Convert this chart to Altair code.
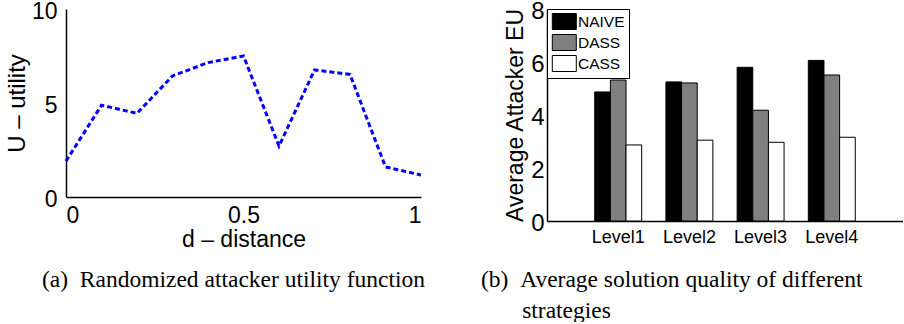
import altair as alt
import pandas as pd

# ---- data (a) ----
distance = [0.0, 0.1, 0.2, 0.3, 0.4, 0.5, 0.6, 0.7, 0.8, 0.9, 1.0]
utility = [1.91, 4.88, 4.45, 6.44, 7.15, 7.50, 2.71, 6.76, 6.52, 1.60, 1.17]

# ---- data (b) ----
levels = ["Level1", "Level2", "Level3", "Level4"]
strategies = ["NAIVE", "DASS", "CASS"]
naive = [4.87, 5.25, 5.80, 6.06]
dass = [5.32, 5.21, 4.18, 5.51]
cass = [2.87, 3.05, 2.97, 3.16]
bar_colors = ["#000000", "#808080", "#ffffff"]

df_a = pd.DataFrame({"d": distance, "u": utility})
rows = []
for s, vals in zip(strategies, [naive, dass, cass]):
    for lv, v in zip(levels, vals):
        rows.append({"level": lv, "strategy": s, "eu": v})
df_b = pd.DataFrame(rows)

SANS = "Liberation Sans"
SERIF = "Liberation Serif"
NB = "\u00a0"

left = alt.Chart(df_a).mark_line(
    color="#0000ff", strokeDash=[5, 3], strokeWidth=3
).encode(
    x=alt.X("d:Q", scale=alt.Scale(domain=[0, 1], nice=False),
            axis=alt.Axis(values=[0, 0.5, 1], format="~g", title="d – distance",
                          labelFontSize=23, titleFontSize=23, labelPadding=7,
                          titlePadding=1)),
    y=alt.Y("u:Q", scale=alt.Scale(domain=[0, 10], nice=False),
            axis=alt.Axis(values=[0, 5, 10], title="U – utility",
                          labelFontSize=23, titleFontSize=24, labelPadding=9,
                          labelOffset=2, titlePadding=2)),
).properties(
    width=355, height=188,
    title=alt.TitleParams(
        text="(a)" + NB + " Randomized attacker utility function",
        orient="bottom", anchor="start", frame="group",
        font=SERIF, fontSize=23.5, fontWeight="normal", color="black",
        dx=-24, offset=17,
    ),
)

right = alt.Chart(df_b).mark_bar(stroke="black", strokeWidth=1).encode(
    x=alt.X("level:N", sort=levels,
            scale=alt.Scale(paddingInner=0, paddingOuter=0.5),
            axis=alt.Axis(title=None, labelAngle=0, labelFontSize=18,
                          labelPadding=7.5)),
    xOffset=alt.XOffset("strategy:N", sort=strategies,
                        scale=alt.Scale(paddingInner=0, paddingOuter=0.775)),
    y=alt.Y("eu:Q", scale=alt.Scale(domain=[0, 8], nice=False),
            axis=alt.Axis(values=[0, 2, 4, 6, 8], title="Average Attacker EU",
                          labelFontSize=24, titleFontSize=23, labelPadding=3,
                          labelOffset=2, titlePadding=3)),
    fill=alt.Fill("strategy:N", sort=strategies,
                  scale=alt.Scale(domain=strategies, range=bar_colors),
                  legend=alt.Legend(
                      title=None, orient="none", legendX=0, legendY=0,
                      padding=4, strokeColor="black", fillColor="white",
                      cornerRadius=0,
                      symbolType="M-0.9,-1H2.1V1H-0.9Z", symbolSize=256,
                      symbolStrokeColor="black", symbolStrokeWidth=1,
                      labelFont=SANS, labelFontSize=15.5, labelColor="black",
                      labelOffset=10, rowPadding=0,
                  )),
).properties(
    width=356, height=212,
    title=alt.TitleParams(
        text=["(b)" + NB + NB + "Average solution quality of different",
              "\u200b" + NB * 7 + "strategies"],
        orient="bottom", anchor="start", frame="group",
        font=SERIF, fontSize=23.5, fontWeight="normal", color="black",
        dx=-66, offset=21, lineHeight=31,
    ),
)

chart = alt.hconcat(left, right, spacing=126, bounds="flush").resolve_legend(
    fill="independent"
).properties(
    padding={"left": 5, "top": -1, "right": 0, "bottom": 0},
    background="white",
).configure_view(stroke=None).configure_axis(
    labelFont=SANS, titleFont=SANS, labelColor="black", titleColor="black",
    titleFontWeight="normal", domainColor="black", domainWidth=1.5,
    tickSize=0, grid=False,
).configure_title(font=SERIF)

chart.save("out.html", embed_options={"renderer": "svg", "actions": False})
